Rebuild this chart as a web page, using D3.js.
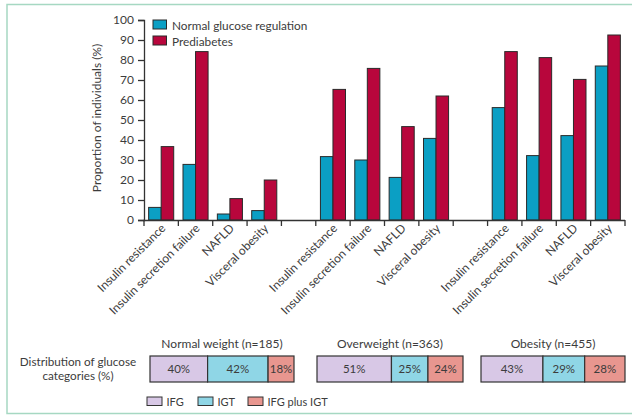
<!DOCTYPE html>
<html><head><meta charset="utf-8">
<script src="https://cdn.jsdelivr.net/npm/d3@7"></script>
<style>body{margin:0;background:#fff}svg{display:block}text{font-family:Lato,"Open Sans",sans-serif;fill:#3c3c3c}</style>
</head><body><svg id="c" width="632" height="417"></svg>
<script>
const categories = ["Insulin resistance","Insulin secretion failure","NAFLD","Visceral obesity"];
const groups = ["Normal weight","Overweight","Obesity"];
const groupN = [185, 363, 455];
const series = ["Normal glucose regulation","Prediabetes"];
const normalValues = [6.3,27.8,3,4.7, 31.7,30,21.3,40.8, 56.2,32.2,42.2,77];
const prediabetesValues = [36.7,84.2,10.7,20, 65.3,75.8,46.7,62, 84.2,81.2,70.3,92.5];
const yTicks = [0,10,20,30,40,50,60,70,80,90,100];
const distCategories = ["IFG","IGT","IFG plus IGT"];
const distNormal = [40,42,18];
const distOverweight = [51,25,24];
const distObesity = [43,29,28];

const svg = d3.select("#c");
const colors = {"Normal glucose regulation":"#0b9fc4","Prediabetes":"#b8063c"};
const distColors = ["#d8c8e6","#8fd6e6","#e8968f"];

// frame
svg.append("rect").attr("x",7).attr("y",4.5).attr("width",640).attr("height",409)
  .attr("fill","none").attr("stroke","#a6d8c2").attr("stroke-width",1.5);

// slots: 4 per group + blank between groups
const slots = [];
groups.forEach((g,gi)=>{
  categories.forEach((c,ci)=>slots.push({key:g+"|"+c, label:c, gi, ci, i:gi*4+ci}));
  if (gi<groups.length-1) slots.push({key:"blank"+gi, blank:true});
});
const x = d3.scaleBand().domain(slots.map(s=>s.key)).range([144,625]).paddingInner(0).paddingOuter(0);
const xs = d3.scaleBand().domain(series).range([0,x.bandwidth()]).paddingInner(0).paddingOuter(0.37);
const y = d3.scaleLinear().domain([0,100]).range([220,20]);

// y axis
const yAxis = d3.axisLeft(y).tickValues(yTicks).tickSize(6).tickPadding(4);
const gy = svg.append("g").attr("transform","translate(144,0)").call(yAxis);
gy.select(".domain").attr("stroke","#333").attr("stroke-width",1.3);
gy.selectAll(".tick line").attr("stroke","#333").attr("stroke-width",1.3);
gy.selectAll(".tick text").attr("font-size",12).style("font-family","Lato,sans-serif").attr("fill","#3c3c3c");

svg.append("text").attr("transform","translate(101,118) rotate(-90)").attr("text-anchor","middle")
  .attr("font-size",12).text("Proportion of individuals (%)");

// bars
const data = slots.filter(s=>!s.blank);
const bars = svg.append("g");
data.forEach(s=>{
  const vals = [normalValues[s.i], prediabetesValues[s.i]];
  series.forEach((se,k)=>{
    bars.append("rect").attr("x",x(s.key)+xs(se)).attr("y",y(vals[k]))
      .attr("width",xs.bandwidth()).attr("height",y(0)-y(vals[k]))
      .attr("fill",colors[se]).attr("stroke","#2a2a2a").attr("stroke-width",1);
  });
});

// x axis line with boundary ticks
const xg = svg.append("g");
xg.append("line").attr("x1",143.4).attr("x2",625).attr("y1",220.5).attr("y2",220.5).attr("stroke","#333").attr("stroke-width",1.3);
const bounds = slots.map(s=>x(s.key)).concat([x(slots[slots.length-1].key)+x.bandwidth()]);
xg.selectAll("line.t").data(bounds).join("line").attr("class","t")
  .attr("x1",d=>d).attr("x2",d=>d).attr("y1",220).attr("y2",226).attr("stroke","#333").attr("stroke-width",1.3);
xg.selectAll("text").data(data).join("text")
  .attr("transform",d=>`translate(${x(d.key)+x.bandwidth()/2+5},${229}) rotate(-45)`)
  .attr("text-anchor","end").attr("font-size",12).text(d=>d.label);

// legend
series.forEach((se,k)=>{
  svg.append("rect").attr("x",153).attr("y",20+k*16).attr("width",13.5).attr("height",9)
    .attr("fill",colors[se]).attr("stroke","#2a2a2a").attr("stroke-width",1);
  svg.append("text").attr("x",172).attr("y",29.5+k*16).attr("font-size",11.8).text(se);
});

// distribution
svg.append("text").attr("x",78).attr("y",366).attr("text-anchor","middle").attr("font-size",11.7).text("Distribution of glucose");
svg.append("text").attr("x",78).attr("y",380).attr("text-anchor","middle").attr("font-size",11.7).text("categories (%)");

const dists = [distNormal, distOverweight, distObesity];
const ranges = [[150,294],[317,463],[481,625]];
dists.forEach((dv,gi)=>{
  const sx = d3.scaleLinear().domain([0,100]).range(ranges[gi]);
  const stack = d3.cumsum(dv);
  const starts = [0].concat(Array.from(stack).slice(0,-1));
  svg.append("text").attr("x",(ranges[gi][0]+ranges[gi][1])/2).attr("y",348).attr("text-anchor","middle")
    .attr("font-size",12).text(`${groups[gi]} (n=${groupN[gi]})`);
  dv.forEach((v,k)=>{
    svg.append("rect").attr("x",sx(starts[k])).attr("y",356).attr("width",sx(starts[k]+v)-sx(starts[k]))
      .attr("height",26).attr("fill",distColors[k]).attr("stroke","#333").attr("stroke-width",1.2);
    svg.append("text").attr("x",(sx(starts[k])+sx(starts[k]+v))/2).attr("y",373).attr("text-anchor","middle")
      .attr("font-size",11.5).attr("fill","#555").text(v+"%");
  });
});

// bottom legend
const lx = [147,198,248];
distCategories.forEach((c,k)=>{
  svg.append("rect").attr("x",lx[k]).attr("y",397).attr("width",15).attr("height",8.5)
    .attr("fill",distColors[k]).attr("stroke","#333").attr("stroke-width",1);
  svg.append("text").attr("x",lx[k]+19.5).attr("y",405.5).attr("font-size",11).text(c);
});
</script></body></html>
